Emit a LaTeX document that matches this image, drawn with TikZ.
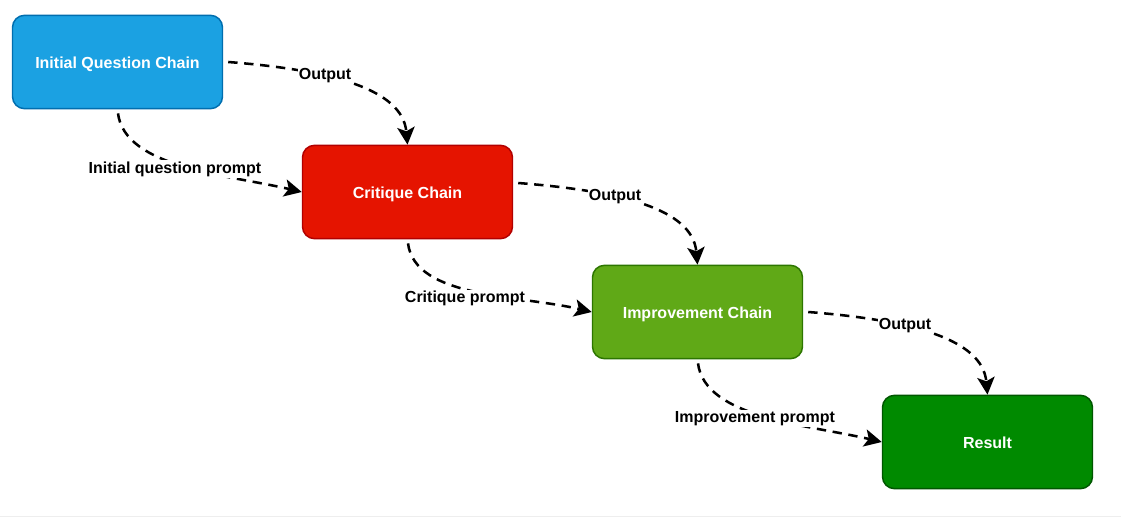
\documentclass[tikz,border=0pt]{standalone}
\usepackage{fontspec}
\setmainfont{Liberation Sans}
\usetikzlibrary{arrows.meta,calc}
\definecolor{iniF}{HTML}{1BA1E2}
\definecolor{iniD}{HTML}{006EAF}
\definecolor{criF}{HTML}{E51400}
\definecolor{criD}{HTML}{B20000}
\definecolor{impF}{HTML}{60A917}
\definecolor{impD}{HTML}{2D7600}
\definecolor{resF}{HTML}{008A00}
\definecolor{resD}{HTML}{005700}
\definecolor{rule}{HTML}{EEEEEE}
\begin{document}
\begin{tikzpicture}[x=0.75pt,y=-0.75pt,
  chainbox/.style={draw, rounded corners=9pt, minimum width=157.5pt, minimum height=70pt,
    line width=1.1pt, text=white, font=\bfseries\fontsize{12}{14}\selectfont, inner sep=0pt,
    text height=10pt, text depth=0pt},
  flow/.style={line width=1.9pt, dash pattern=on 7pt off 5pt,
    -{Stealth[length=13pt,width=13pt,inset=3pt]}},
  lbl/.style={fill=white, text=black, font=\bfseries\fontsize{12}{14}\selectfont, inner sep=1pt}]
\fill[white] (0,0) rectangle (1121,517);
\useasboundingbox (0,0) rectangle (1121,517);
\draw[rule, line width=0.75pt] (0,516) -- (1121,516);

\node[chainbox, fill=iniF, draw=iniD] (ini) at (117.5,62) {Initial Question Chain};
\node[chainbox, fill=criF, draw=criD] (cri) at (407.5,192) {Critique Chain};
\node[chainbox, fill=impF, draw=impD] (imp) at (697.5,312) {Improvement Chain};
\node[chainbox, fill=resF, draw=resD] (res) at (987.5,442) {Result};

\draw[flow] ($(ini.east)+(5,0)$) .. controls +(102,8) and +(-5,-56) .. (cri.north)
  node[lbl, pos=0.36] {Output};
\draw[flow] ($(ini.south)+(0.5,4)$) .. controls +(7,55) and +(-72,-17) .. (cri.west)
  node[lbl, pos=0.45, yshift=-4pt] {Initial question prompt};

\draw[flow] ($(cri.east)+(5,-9)$) .. controls +(102,8) and +(-5,-56) .. (imp.north)
  node[lbl, pos=0.36] {Output};
\draw[flow] ($(cri.south)+(0.5,4)$) .. controls +(7,55) and +(-72,-17) .. (imp.west)
  node[lbl, pos=0.45, yshift=-7pt] {Critique prompt};

\draw[flow] ($(imp.east)+(5,0)$) .. controls +(102,8) and +(-5,-56) .. (res.north)
  node[lbl, pos=0.36] {Output};
\draw[flow] ($(imp.south)+(0.5,4)$) .. controls +(7,55) and +(-72,-17) .. (res.west)
  node[lbl, pos=0.45, yshift=-4pt] {Improvement prompt};
\end{tikzpicture}
\end{document}
